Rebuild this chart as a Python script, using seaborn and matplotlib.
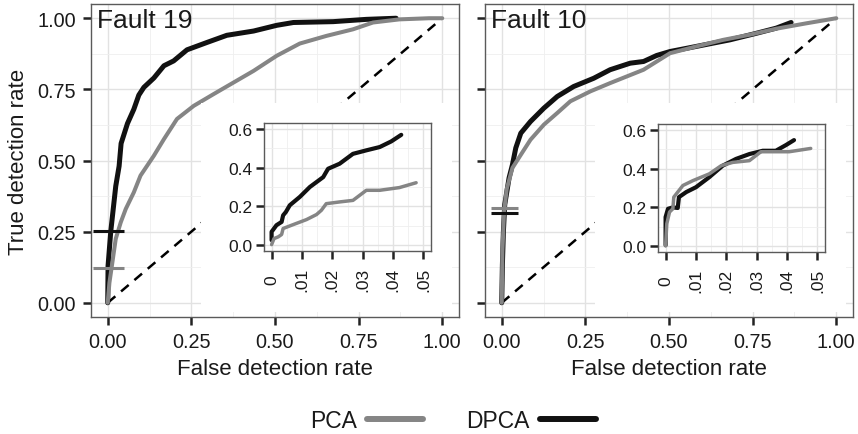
import matplotlib
matplotlib.use("Agg")
import matplotlib.pyplot as plt
import numpy as np
import pandas as pd
import seaborn as sns
from matplotlib.lines import Line2D
from matplotlib.ticker import MultipleLocator, FixedLocator

# ---------------- data ----------------
methods = ["PCA", "DPCA"]
panel_titles = ["Fault 19", "Fault 10"]

# Fault 19 main ROC curves
f19_dpca_x = [0, 0.001, 0.009, 0.024, 0.034, 0.040, 0.059, 0.078, 0.093, 0.108, 0.138, 0.168, 0.197,
              0.237, 0.297, 0.356, 0.436, 0.505, 0.555, 0.674, 0.773, 0.862]
f19_dpca_y = [0, 0.13, 0.25, 0.41, 0.48, 0.56, 0.63, 0.68, 0.73, 0.757, 0.79, 0.833, 0.85,
              0.889, 0.915, 0.94, 0.955, 0.975, 0.985, 0.988, 0.996, 1.0]
f19_pca_x = [0, 0.005, 0.014, 0.024, 0.039, 0.054, 0.078, 0.098, 0.138, 0.168, 0.207, 0.257, 0.316,
             0.376, 0.436, 0.505, 0.574, 0.654, 0.733, 0.793, 0.872, 0.961, 1.0]
f19_pca_y = [0, 0.07, 0.143, 0.225, 0.283, 0.33, 0.388, 0.447, 0.517, 0.575, 0.646, 0.692, 0.733,
             0.774, 0.815, 0.868, 0.911, 0.938, 0.961, 0.985, 0.996, 1.0, 1.0]

# Fault 10 main ROC curves
f10_dpca_x = [0, 0.002, 0.005, 0.009, 0.022, 0.032, 0.042, 0.057, 0.086, 0.126, 0.166, 0.215, 0.275,
              0.324, 0.384, 0.424, 0.463, 0.503, 0.582, 0.682, 0.761, 0.82, 0.865]
f10_dpca_y = [0, 0.134, 0.25, 0.345, 0.439, 0.485, 0.544, 0.596, 0.637, 0.684, 0.725, 0.76, 0.789,
              0.819, 0.842, 0.848, 0.869, 0.883, 0.901, 0.924, 0.947, 0.965, 0.985]
f10_pca_x = [0, 0.002, 0.007, 0.015, 0.032, 0.057, 0.086, 0.126, 0.166, 0.205, 0.265, 0.324, 0.424,
             0.503, 0.582, 0.662, 0.741, 0.82, 0.91, 1.0]
f10_pca_y = [0, 0.18, 0.32, 0.40, 0.474, 0.52, 0.573, 0.626, 0.667, 0.708, 0.743, 0.772, 0.819,
             0.877, 0.901, 0.924, 0.942, 0.963, 0.982, 1.0]

# detection rate at the nominal alarm threshold (short horizontal marks)
f19_mark = {"PCA": 0.123, "DPCA": 0.251}
f10_mark = {"PCA": 0.333, "DPCA": 0.316}

# Inset (zoom on false detection rate 0 - 0.05)
f19_in_dpca_x = [0, 0, 0.0016, 0.0033, 0.0038, 0.0047, 0.006, 0.0093, 0.0126, 0.017, 0.0186, 0.0224,
                 0.0268, 0.0312, 0.0356, 0.0394, 0.0427]
f19_in_dpca_y = [0.026, 0.069, 0.103, 0.12, 0.154, 0.171, 0.206, 0.249, 0.30, 0.351, 0.394, 0.42,
                 0.471, 0.489, 0.506, 0.535, 0.569]
f19_in_pca_x = [0, 0.0008, 0.0022, 0.0033, 0.0038, 0.0066, 0.0115, 0.0148, 0.0164, 0.018, 0.0224,
                0.0268, 0.0312, 0.0356, 0.0421, 0.0476]
f19_in_pca_y = [0.003, 0.034, 0.043, 0.055, 0.086, 0.103, 0.132, 0.158, 0.18, 0.214, 0.223,
                0.231, 0.283, 0.283, 0.297, 0.322]
f10_in_dpca_x = [0, 0, 0.0008, 0.0024, 0.004, 0.0044, 0.0068, 0.010, 0.0144, 0.0188, 0.0232, 0.0276,
                 0.032, 0.0363, 0.0396, 0.0423]
f10_in_dpca_y = [0.005, 0.15, 0.193, 0.20, 0.197, 0.253, 0.279, 0.304, 0.356, 0.415, 0.45, 0.475,
                 0.492, 0.492, 0.521, 0.547]
f10_in_pca_x = [0, 0.0004, 0.0013, 0.0024, 0.0027, 0.0057, 0.009, 0.0144, 0.0183, 0.0221, 0.0276,
                0.0314, 0.0363, 0.0407, 0.0478]
f10_in_pca_y = [0.002, 0.116, 0.176, 0.193, 0.253, 0.313, 0.338, 0.373, 0.415, 0.432, 0.441,
                0.487, 0.487, 0.487, 0.504]

main_ticks = [0, 0.25, 0.5, 0.75, 1.0]
main_ticklabels = ["0.00", "0.25", "0.50", "0.75", "1.00"]
inset_xticks = [0, 0.01, 0.02, 0.03, 0.04, 0.05]
inset_xticklabels = ["0", ".01", ".02", ".03", ".04", ".05"]
inset_yticks = [0, 0.2, 0.4, 0.6]
inset_yticklabels = ["0.0", "0.2", "0.4", "0.6"]


def frame(xp, yp, xd, yd):
    return pd.concat([
        pd.DataFrame({"x": xd, "y": yd, "method": "DPCA"}),
        pd.DataFrame({"x": xp, "y": yp, "method": "PCA"}),
    ], ignore_index=True)


# ---------------- style ----------------
sns.set_theme(style="white")
plt.rcParams["font.family"] = ["Liberation Sans", "DejaVu Sans"]
GRAY = "#858585"
BLACK = "#111111"
palette = {"PCA": GRAY, "DPCA": BLACK}
TXT = "#1a1a1a"
SPINE = "#5a5a5a"

W, H = 858, 435
fig = plt.figure(figsize=(W / 100, H / 100), dpi=100)


def px(l, t, r, b):
    return [l / W, 1 - b / H, (r - l) / W, (b - t) / H]


def style_grid(ax, minor_x, minor_y, lw_major=1.0, lw_minor=0.6):
    ax.xaxis.set_minor_locator(MultipleLocator(minor_x))
    ax.yaxis.set_minor_locator(MultipleLocator(minor_y))
    ax.set_axisbelow(True)
    ax.grid(which="major", color="#E2E2E2", lw=lw_major)
    ax.grid(which="minor", color="#EFEFEF", lw=lw_minor)
    for s in ax.spines.values():
        s.set_color(SPINE)
        s.set_linewidth(1.0)


panels = [
    dict(title="Fault 19", main=frame(f19_pca_x, f19_pca_y, f19_dpca_x, f19_dpca_y),
         inset=frame(f19_in_pca_x, f19_in_pca_y, f19_in_dpca_x, f19_in_dpca_y),
         mark=f19_mark, mark_x0=-0.045, box=(91, 5, 459, 318), bg=(201, 104, 452, 313),
         ins=(264, 124, 431, 252), ylab=True),
    dict(title="Fault 10", main=frame(f10_pca_x, f10_pca_y, f10_dpca_x, f10_dpca_y),
         inset=frame(f10_in_pca_x, f10_in_pca_y, f10_in_dpca_x, f10_in_dpca_y),
         mark=f10_mark, mark_x0=-0.033, box=(485, 5, 853, 318), bg=(595, 104, 846, 313),
         ins=(658, 125, 825, 253), ylab=False),
]

for p in panels:
    ax = fig.add_axes(px(*p["box"]))
    ax.plot([0, 1], [0, 1], ls=(0, (4, 3)), color="black", lw=1.8, zorder=1.5)
    sns.lineplot(data=p["main"], x="x", y="y", hue="method", hue_order=["DPCA", "PCA"],
                 palette=palette, size="method", sizes={"PCA": 2.9, "DPCA": 3.6},
                 estimator=None, sort=False, legend=False, ax=ax, zorder=3)
    for m in ["DPCA", "PCA"]:
        ax.hlines(p["mark"][m], p["mark_x0"], 0.05, color=palette[m], lw=2.2, zorder=4)
    ax.set_xlim(-0.05, 1.05)
    ax.set_ylim(-0.05, 1.05)
    ax.set_xticks(main_ticks)
    ax.set_xticklabels(main_ticklabels)
    ax.set_yticks(main_ticks)
    if p["ylab"]:
        ax.set_yticklabels(main_ticklabels)
        ax.set_ylabel("True detection rate", fontsize=16, color=TXT, labelpad=6)
    else:
        ax.set_yticklabels([])
        ax.set_ylabel("")
    ax.set_xlabel("False detection rate", fontsize=16, color=TXT, labelpad=5)
    ax.tick_params(axis="both", which="major", length=6, width=1.8, color="#222222",
                  labelsize=14.3, labelcolor=TXT, pad=5, bottom=True, left=True)
    ax.tick_params(which="minor", length=0)
    style_grid(ax, 0.125, 0.125)
    ax.text(0.016, 0.988, p["title"], transform=ax.transAxes, fontsize=19,
            ha="left", va="top", color=TXT, zorder=6)

    # white background behind the inset (covers main panel content)
    bg = fig.add_axes(px(*p["bg"]))
    bg.set_facecolor("white")
    bg.set_xticks([])
    bg.set_yticks([])
    for s in bg.spines.values():
        s.set_visible(False)

    ins = fig.add_axes(px(*p["ins"]))
    sns.lineplot(data=p["inset"], x="x", y="y", hue="method", hue_order=["DPCA", "PCA"],
                 palette=palette, size="method", sizes={"PCA": 2.5, "DPCA": 3.0},
                 estimator=None, sort=False, legend=False, ax=ins)
    ins.set_xlim(-0.0025, 0.0525)
    ins.set_ylim(-0.03, 0.63)
    ins.set_xticks(inset_xticks)
    ins.set_xticklabels(inset_xticklabels, rotation=90, va="center")
    ins.set_yticks(inset_yticks)
    ins.set_yticklabels(inset_yticklabels)
    ins.set_xlabel("")
    ins.set_ylabel("")
    ins.tick_params(axis="both", which="major", length=5.5, width=1.8, color="#222222",
                    labelsize=12.5, labelcolor=TXT, bottom=True, left=True)
    ins.tick_params(axis="x", which="major", pad=14.5)
    ins.tick_params(axis="y", which="major", pad=3)
    ins.tick_params(which="minor", length=0)
    style_grid(ins, 0.005, 0.1, lw_major=1.0, lw_minor=0.6)

handles = [Line2D([], [], color=GRAY, lw=4.3), Line2D([], [], color=BLACK, lw=4.3)]
fig.legend(handles=handles, labels=methods, loc="center", bbox_to_anchor=(453 / W, 1 - 422 / H),
           ncol=2, frameon=False, markerfirst=False, fontsize=16.5, handlelength=2.45,
           handletextpad=0.45, columnspacing=1.9, labelcolor=TXT)

fig.savefig("out.png", dpi=100)
